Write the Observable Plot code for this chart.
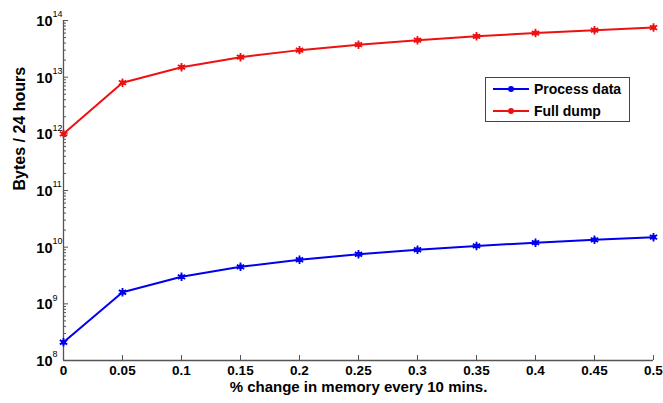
<!DOCTYPE html>
<html>
<head>
<meta charset="utf-8">
<script src="https://cdn.jsdelivr.net/npm/d3@7"></script>
<script src="https://cdn.jsdelivr.net/npm/@observablehq/plot@0.6"></script>
<style>
  html, body { margin: 0; padding: 0; background: #fff; }
  #wrap { position: relative; width: 663px; height: 403px; font-family: "Liberation Sans", Arial, sans-serif; }
  #legend { position: absolute; left: 485px; top: 77px; width: 143px; height: 43px; border: 1px solid #444; background: #fff; }
  .row { position: absolute; left: 6px; height: 18px; display: flex; align-items: center; font-weight: bold; font-size: 14px; color: #000; }
  .row svg { margin-right: 4px; }
</style>
</head>
<body>
<div id="wrap"></div>
<script>
const xValues = [0, 0.05, 0.1, 0.15, 0.2, 0.25, 0.3, 0.35, 0.4, 0.45, 0.5];
const processData = [2.1e8, 1.6e9, 3.0e9, 4.5e9, 6.0e9, 7.5e9, 9.0e9, 1.05e10, 1.2e10, 1.35e10, 1.5e10];
const fullDump = [1.0e12, 8.0e12, 1.5e13, 2.25e13, 3.0e13, 3.75e13, 4.5e13, 5.25e13, 6.0e13, 6.75e13, 7.5e13];
const seriesNames = ["Process data", "Full dump"];
const seriesColors = ["#0000ee", "#ee1111"];
const yMajor = [1e8, 1e9, 1e10, 1e11, 1e12, 1e13, 1e14];
const yExponents = ["8", "9", "10", "11", "12", "13", "14"];
const xTickLabels = ["0", "0.05", "0.1", "0.15", "0.2", "0.25", "0.3", "0.35", "0.4", "0.45", "0.5"];

const rows = [];
xValues.forEach((x, i) => {
  rows.push({x, y: processData[i], s: seriesNames[0]});
  rows.push({x, y: fullDump[i], s: seriesNames[1]});
});
const yMinor = [];
for (let k = 0; k < yMajor.length - 1; k++) for (let m = 2; m <= 9; m++) yMinor.push(yMajor[k] * m);

const font = '"Liberation Sans", Arial, sans-serif';
const axisColor = "#555";
const W = 663, H = 403, mL = 63, mR = 10, mT = 20, mB = 43;
const frameW = W - mL - mR, frameH = H - mT - mB;

const chart = Plot.plot({
  width: W,
  height: H,
  marginLeft: mL,
  marginRight: mR,
  marginTop: mT,
  marginBottom: mB,
  style: {fontFamily: font, background: "#fff"},
  x: {domain: [0, 0.5], axis: null},
  y: {type: "log", domain: [1e8, 1e14], axis: null},
  color: {domain: seriesNames, range: seriesColors},
  marks: [
    Plot.tickY(yMajor, {y: d => d, insetRight: frameW - 5, stroke: axisColor}),
    Plot.tickY(yMinor, {y: d => d, insetRight: frameW - 3, stroke: axisColor}),
    Plot.tickX(xValues, {x: d => d, insetTop: frameH - 5, stroke: axisColor}),
    Plot.ruleX([0], {stroke: axisColor, strokeWidth: 1.3}),
    Plot.ruleY([1e8], {stroke: axisColor, strokeWidth: 1.3}),
    Plot.axisX(xValues, {tickSize: 0, tickPadding: 5, tickFormat: (d, i) => xTickLabels[i], label: null, fontSize: 13.5, fontWeight: "bold", fill: "#000"}),
    Plot.text(yMajor, {y: d => d, frameAnchor: "left", text: () => "10", textAnchor: "end", dx: -11, dy: 1, fontSize: 14.5, fontWeight: "bold", fill: "#000"}),
    Plot.text(yMajor, {y: d => d, frameAnchor: "left", text: (d, i) => yExponents[i], textAnchor: "start", dx: -11, dy: -6, fontSize: 9, fill: "#000"}),
    Plot.line(rows, {x: "x", y: "y", z: "s", stroke: "s", strokeWidth: 2}),
    Plot.dot(rows, {x: "x", y: "y", stroke: "s", symbol: "asterisk", r: 4, strokeWidth: 1.8}),
    Plot.dot(rows, {x: "x", y: "y", fill: "s", r: 2.5}),
    Plot.text(["Bytes / 24 hours"], {frameAnchor: "left", text: d => d, rotate: -90, dx: -44, fontSize: 16, fontWeight: "bold", fill: "#000"}),
    Plot.text(["% change in memory every 10 mins."], {frameAnchor: "bottom", text: d => d, dy: 31, fontSize: 15, fontWeight: "bold", fill: "#000"})
  ]
});
const wrap = document.getElementById("wrap");
wrap.appendChild(chart);

const legend = document.createElement("div");
legend.id = "legend";
seriesNames.forEach((name, i) => {
  const row = document.createElement("div");
  row.className = "row";
  row.style.top = (2 + i * 22) + "px";
  const c = seriesColors[i];
  row.innerHTML = `<svg width="38" height="10"><line x1="1" y1="5" x2="37" y2="5" stroke="${c}" stroke-width="2"/><circle cx="19" cy="5" r="3" fill="${c}"/></svg><span>${name}</span>`;
  legend.appendChild(row);
});
wrap.appendChild(legend);
</script>
</body>
</html>
